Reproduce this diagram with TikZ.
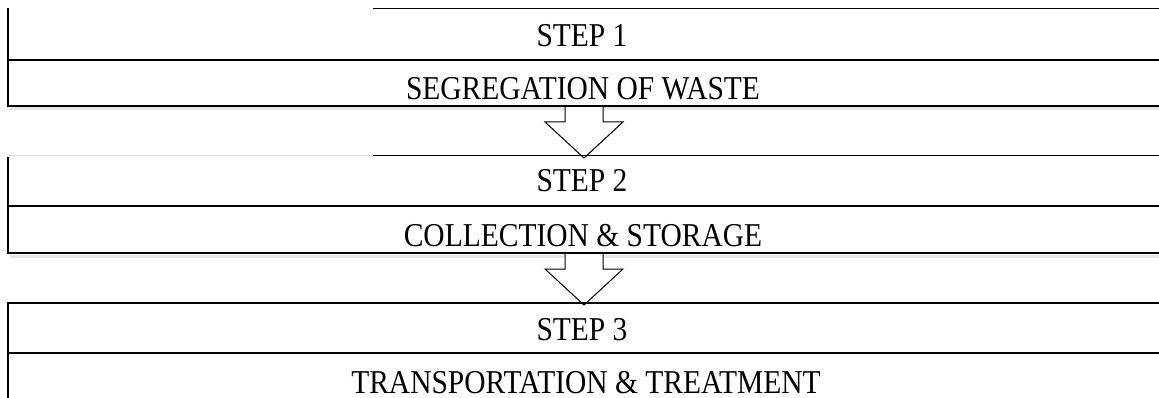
\documentclass[tikz,border=0pt]{standalone}
\usepackage{graphicx}
\usepackage{fontspec}
\setmainfont{Liberation Serif}
\usetikzlibrary{positioning}

\newcommand{\tallcaps}[1]{\scalebox{1}[1.13]{#1}}

\begin{document}
\begin{tikzpicture}[
        x=1pt, y=-1pt,
        every node/.style={font=\fontsize{29.5}{33}\selectfont, inner sep=0pt, anchor=base},
        thinrule/.style={draw, line width=0.8pt},
        rule/.style={draw, line width=1.1pt},
        boldrule/.style={draw, line width=1.7pt},
        shadowline/.style={draw=black!10, line width=3pt},
        fadedrule/.style={draw=black!15, line width=0.8pt},
        blockarrow/.style={draw, line width=1pt, fill=white, line join=miter}
    ]
    \useasboundingbox (0,0) rectangle (1159,398);

    % Shadows under the blocks
    \draw[shadowline] (10,109) -- (1159,109);
    \draw[shadowline] (10,256) -- (1159,256);

    % Arrow anchors
    \coordinate (arr1s) at (584,106);
    \coordinate (arr1e) at (584,158);
    \coordinate (arr2s) at (584,253);
    \coordinate (arr2e) at (584,305);

    % Block arrows
    \draw[blockarrow] (arr1s) ++(-19,0) -- ++(0,16) -- ++(-20,0) -- (arr1e) -- ++(39,-36) -- ++(-20,0) -- ++(0,-16) -- cycle;
    \draw[blockarrow] (arr2s) ++(-19,0) -- ++(0,16) -- ++(-20,0) -- (arr2e) -- ++(39,-36) -- ++(-20,0) -- ++(0,-16) -- cycle;

    % Step 1 block
    \draw[thinrule] (373,8) -- (1159,8);
    \draw[rule] (8,60) -- (1159,60);
    \draw[boldrule] (8,106) -- (1159,106);
    \draw[boldrule] (8,8) -- (8,106.8);

    % Step 2 block
    \draw[fadedrule] (8,155) -- (373,155);
    \draw[thinrule] (373,155) -- (1159,155);
    \draw[rule] (8,206) -- (1159,206);
    \draw[boldrule] (8,253) -- (1159,253);
    \draw[boldrule] (8,157) -- (8,253.8);

    % Step 3 block
    \draw[rule] (7,303) -- (1159,303);
    \draw[rule] (8,353) -- (1159,353);
    \draw[boldrule] (8,303) -- (8,398);

    % Texts
    \node (step1) at (582,46.7) {\tallcaps{STEP 1}};
    \node (seg) at (583,100) {\tallcaps{SEGREGATION OF WASTE}};
    \node (step2) at (582,192) {\tallcaps{STEP 2}};
    \node (coll) at (583,247) {\tallcaps{COLLECTION \& STORAGE}};
    \node (step3) at (582,340) {\tallcaps{STEP 3}};
    \node (trans) at (586,393) {\tallcaps{TRANSPORTATION \& TREATMENT}};

\end{tikzpicture}
\end{document}
